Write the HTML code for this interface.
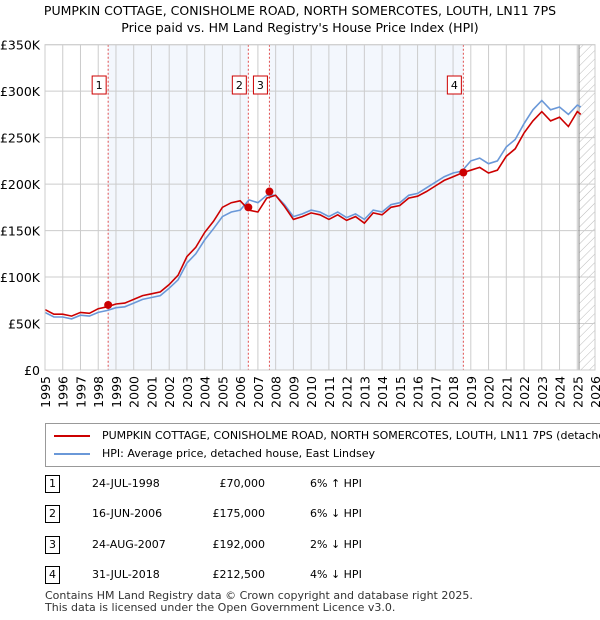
<!DOCTYPE html>
<html><head><meta charset="utf-8"><style>
body{margin:0;width:600px;height:620px;background:#fff;font-family:"DejaVu Sans","Liberation Sans",sans-serif;overflow:hidden;position:relative}
</style></head><body>
<div style="position:absolute;top:2px;left:0;width:600px;text-align:center;font-size:12.5px;line-height:17px">PUMPKIN COTTAGE, CONISHOLME ROAD, NORTH SOMERCOTES, LOUTH, LN11 7PS<br>Price paid vs. HM Land Registry's House Price Index (HPI)</div>
<svg id="chart" width="600" height="420" style="position:absolute;left:0;top:0" font-family="DejaVu Sans, sans-serif"></svg>
<div style="position:absolute;left:45px;top:423px;width:570px;height:42px;border:1px solid #999;overflow:hidden">
 <div style="position:absolute;left:8px;top:5px;white-space:nowrap;font-size:11px"><span style="display:inline-block;width:36px;height:2px;background:#c00;vertical-align:middle;margin-right:12px"></span>PUMPKIN COTTAGE, CONISHOLME ROAD, NORTH SOMERCOTES, LOUTH, LN11 7PS (detached house)</div>
 <div style="position:absolute;left:8px;top:23px;white-space:nowrap;font-size:11px"><span style="display:inline-block;width:36px;height:2px;background:#6a98d8;vertical-align:middle;margin-right:12px"></span>HPI: Average price, detached house, East Lindsey</div>
</div>
<div id="tbl"></div>
<div style="position:absolute;left:45px;top:590px;font-size:11px;color:#333;line-height:12px">Contains HM Land Registry data © Crown copyright and database right 2025.<br>This data is licensed under the Open Government Licence v3.0.</div>
<script>
const years=[1995,1995.5,1996,1996.5,1997,1997.5,1998,1998.5,1999,1999.5,2000,2000.5,2001,2001.5,2002,2002.5,2003,2003.5,2004,2004.5,2005,2005.5,2006,2006.5,2007,2007.5,2008,2008.5,2009,2009.5,2010,2010.5,2011,2011.5,2012,2012.5,2013,2013.5,2014,2014.5,2015,2015.5,2016,2016.5,2017,2017.5,2018,2018.5,2019,2019.5,2020,2020.5,2021,2021.5,2022,2022.5,2023,2023.5,2024,2024.5,2025,2025.2];
const hpi=[62,57,57,55,59,58,62,64,67,68,72,76,78,80,88,97,115,125,140,152,165,170,172,183,180,188,188,178,165,168,172,170,165,170,164,168,162,172,170,178,180,188,190,196,202,208,212,214,225,228,222,225,240,248,265,280,290,280,283,275,285,283];
const paid=[65,60,60,58,62,61,66,68,71,72,76,80,82,84,92,102,122,132,148,160,175,180,182,172,170,185,188,176,162,165,169,167,162,167,161,165,158,169,167,175,177,185,187,192,198,204,208,212,215,218,212,215,230,238,255,268,278,268,272,262,278,275];
const saleLabels=["1","2","3","4"];
const saleYears=[1998.56,2006.46,2007.65,2018.58];
const salePrices=[70000,175000,192000,212500];
const saleDates=["24-JUL-1998","16-JUN-2006","24-AUG-2007","31-JUL-2018"];
const saleDeltas=["6% ↑ HPI","6% ↓ HPI","2% ↓ HPI","4% ↓ HPI"];
const yTicks=[0,50,100,150,200,250,300,350];
const x0=45,x1=595,yTop=44.7,yBot=370;
const X=y=>x0+(y-1995)/(2026-1995)*(x1-x0);
const Y=v=>yBot-v/350*(yBot-yTop);
const svg=document.getElementById('chart');const NS='http://www.w3.org/2000/svg';
function mk(t,a,p){const e=document.createElementNS(NS,t);for(const k in a)e.setAttribute(k,a[k]);(p||svg).appendChild(e);return e;}
let r=mk('rect',{x:X(saleYears[0]),y:yTop,width:X(saleYears[1])-X(saleYears[0]),height:yBot-yTop,fill:'#eef3fc',opacity:0.7});

r=mk('rect',{x:X(saleYears[2]),y:yTop,width:X(saleYears[3])-X(saleYears[2]),height:yBot-yTop,fill:'#eef3fc',opacity:0.7});

const defs=mk('defs',{});const pat=mk('pattern',{id:'h',width:6,height:6,patternUnits:'userSpaceOnUse',patternTransform:'rotate(45)'},defs);
mk('line',{x1:0,y1:0,x2:0,y2:6,stroke:'#bbb','stroke-width':1},pat);
r=mk('rect',{x:X(2025.1),y:yTop,width:x1-X(2025.1),height:yBot-yTop,fill:'url(#h)'});

for(let yr=1995;yr<=2026;yr++){const l=mk('line',{x1:X(yr),x2:X(yr),y1:yTop,y2:yBot,stroke:'#ccc','stroke-width':1});

const t=mk('text',{x:0,y:0,'font-size':12.5,'text-anchor':'end',transform:`translate(${X(yr)+5},${yBot+6}) rotate(-90)`});t.textContent=yr;
}
yTicks.forEach(v=>{const l=mk('line',{x1:x0,x2:x1,y1:Y(v),y2:Y(v),stroke:'#ccc','stroke-width':1});

const t=mk('text',{x:x0-5,y:Y(v)+5,'font-size':12.5,'text-anchor':'end'});t.textContent=v?('£'+v+'K'):'£0';
});
let l=mk('line',{x1:X(2025.1),x2:X(2025.1),y1:yTop,y2:yBot,stroke:'#888','stroke-width':1});

saleYears.forEach((s,i)=>{const l=mk('line',{x1:X(s),x2:X(s),y1:yTop,y2:yBot,stroke:'#e05050','stroke-width':1,'stroke-dasharray':'2,2'});

const g=mk('g',{});
mk('rect',{x:X(s)-16,y:76,width:14,height:18,fill:'#fff',stroke:'#c00'},g);
const t=mk('text',{x:X(s)-9,y:89,'font-size':11,'text-anchor':'middle'},g);t.textContent=saleLabels[i];});
function path(arr,col,name){const d=arr.map((v,i)=>(i?'L':'M')+X(years[i]).toFixed(1)+','+Y(v).toFixed(1)).join('');
const p=mk('path',{d,fill:'none',stroke:col,'stroke-width':1.6});}
path(hpi,'#6a98d8','hpi-line');path(paid,'#cc0000','price-paid-line');
saleYears.forEach((s,i)=>{const c=mk('circle',{cx:X(s),cy:Y(salePrices[i]/1000),r:4,fill:'#cc0000'});
});
mk('rect',{x:x0,y:yTop,width:x1-x0,height:yBot-yTop,fill:'none',stroke:'#ccc'});
const tb=document.getElementById('tbl');const rowsY=[475,505,536,566];
saleLabels.forEach((n,i)=>{const row=document.createElement('div');


row.style.cssText=`position:absolute;left:0;top:${rowsY[i]}px;width:600px;height:18px;font-size:11px`;
row.innerHTML=`<span style="position:absolute;left:45px;top:0;width:13px;height:16px;border:1px solid #000;text-align:center;line-height:16px">${n}</span><span style="position:absolute;left:92px;top:2px">${saleDates[i]}</span><span style="position:absolute;right:335px;top:2px">£${salePrices[i].toLocaleString('en-GB')}</span><span style="position:absolute;left:310px;top:2px">${saleDeltas[i]}</span>`;
tb.appendChild(row);});
</script>
</body></html>
